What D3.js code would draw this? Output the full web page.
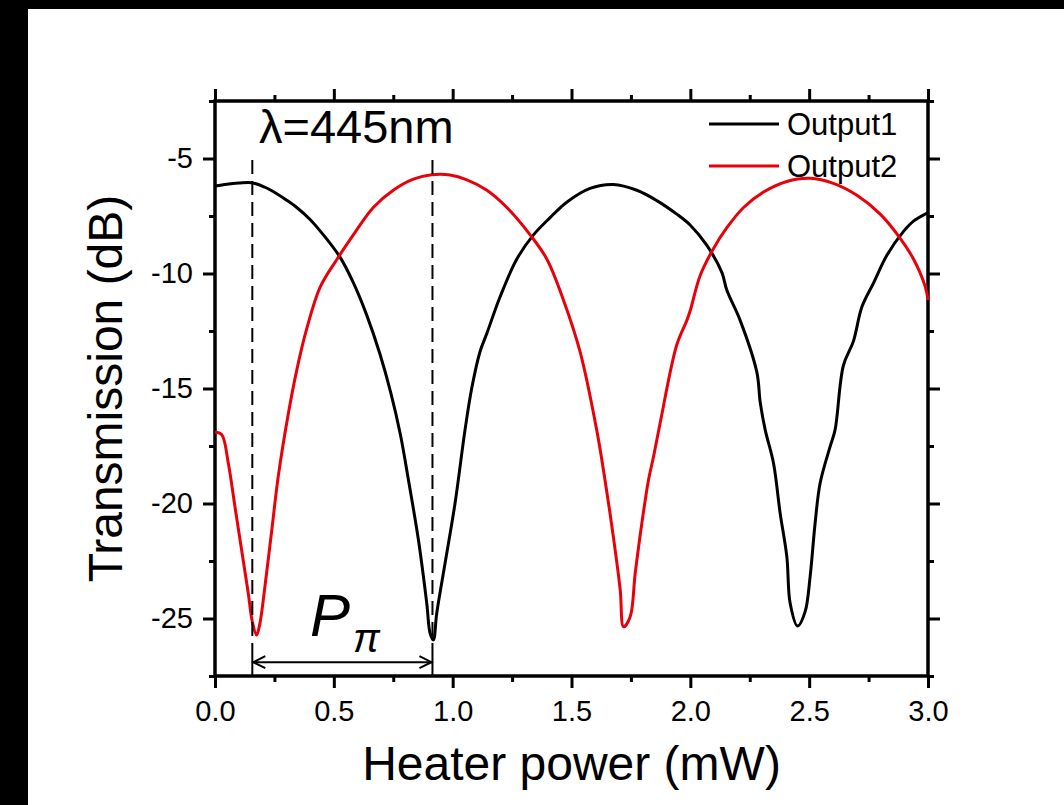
<!DOCTYPE html>
<html>
<head>
<meta charset="utf-8">
<script src="https://cdn.jsdelivr.net/npm/d3@7"></script>
<style>
  body { margin: 0; background: #000; }
  svg { display: block; }
  text { font-family: "Liberation Sans", Arial, sans-serif; fill: #000; }
</style>
</head>
<body>
<div id="chart"></div>
<script>
// Output1 (black): heater power (mW) / transmission (dB)
var powerOut1 = [0, 0.05, 0.10, 0.154, 0.21, 0.26, 0.30, 0.344, 0.40, 0.456,
  0.526, 0.582, 0.638, 0.694, 0.74, 0.78, 0.814, 0.856, 0.891, 0.905,
  0.919, 0.933, 0.968, 1.01, 1.052, 1.08, 1.115, 1.144, 1.20, 1.27,
  1.34, 1.41, 1.48, 1.578, 1.676, 1.775, 1.859, 1.943, 2.0, 2.069,
  2.133, 2.153, 2.21, 2.28, 2.294, 2.315, 2.35, 2.378, 2.406, 2.42,
  2.451, 2.483, 2.504, 2.525, 2.546, 2.588, 2.609, 2.644, 2.686, 2.722,
  2.771, 2.827, 2.897, 2.939, 3.0];
var transOut1 = [-6.20, -6.12, -6.07, -6.05, -6.25, -6.53, -6.80, -7.13, -7.65, -8.32,
  -9.29, -10.4, -11.8, -13.5, -15.2, -17.0, -18.98, -21.59, -24.34, -25.64,
  -25.93, -24.77, -22.6, -19.99, -16.8, -15.0, -13.4, -12.6, -11.0, -9.37,
  -8.32, -7.57, -6.9, -6.3, -6.13, -6.38, -6.83, -7.42, -7.9, -8.77,
  -9.96, -10.71, -12.05, -14.3, -15.6, -16.8, -18.25, -20.43, -22.31, -24.34,
  -25.33, -24.7, -23.18, -20.86, -19.12, -17.53, -16.8, -14.0, -12.95, -11.45,
  -10.41, -9.21, -8.17, -7.72, -7.35];

// Output2 (red)
var powerOut2 = [0, 0.028, 0.056, 0.084, 0.112, 0.14, 0.157, 0.175, 0.189, 0.21,
  0.239, 0.266, 0.305, 0.344, 0.386, 0.442, 0.512, 0.582, 0.666, 0.75,
  0.835, 0.912, 0.989, 1.06, 1.144, 1.228, 1.326, 1.396, 1.466, 1.536,
  1.606, 1.641, 1.676, 1.705, 1.719, 1.747, 1.768, 1.796, 1.824, 1.845,
  1.873, 1.943, 1.985, 2.0, 2.041, 2.097, 2.153, 2.224, 2.308, 2.406,
  2.504, 2.602, 2.701, 2.799, 2.883, 2.939, 2.988, 3.0];
var transOut2 = [-16.9, -17.0, -18.25, -20.14, -22.02, -23.9, -25.14, -25.72, -25.21, -23.62,
  -21.15, -18.83, -16.3, -14.2, -12.4, -10.6, -9.4, -8.32, -7.13, -6.38,
  -5.9, -5.71, -5.72, -5.93, -6.38, -7.13, -8.32, -9.37, -11.15, -13.4,
  -16.8, -18.98, -21.44, -23.76, -25.36, -24.92, -23.04, -20.86, -18.98, -17.97,
  -16.5, -13.1, -12.05, -11.6, -10.1, -8.92, -8.02, -7.13, -6.46, -6.0,
  -5.86, -6.08, -6.6, -7.42, -8.47, -9.37, -10.56, -11.15];

var xMajor = [0, 0.5, 1, 1.5, 2, 2.5, 3];
var xMinor = [0.25, 0.75, 1.25, 1.75, 2.25, 2.75];
var yMajor = [-5, -10, -15, -20, -25];
var yMinor = [-2.5, -7.5, -12.5, -17.5, -22.5, -27.5];
var seriesNames = ["Output1", "Output2"];
var seriesColors = ["#000000", "#e8000b"];
// the two dips marked with dashed lines (P_pi span)
var dipPowers = [0.157, 0.915];

var svgWidth = 1064;
var svgHeight = 805;

var margin = {
  top: 101,
  right: 136,
  bottom: 129,
  left: 215
};

var width = svgWidth - margin.left - margin.right;
var height = svgHeight - margin.top - margin.bottom;

var svg = d3
  .select("#chart")
  .append("svg")
  .attr("width", svgWidth)
  .attr("height", svgHeight);

// black border strips on the left and top, white page
svg.append("rect").attr("width", svgWidth).attr("height", svgHeight).attr("fill", "#000");
svg.append("rect").attr("x", 28).attr("y", 9)
  .attr("width", svgWidth - 28).attr("height", svgHeight - 9).attr("fill", "#fff");

var chartGroup = svg
  .append("g")
  .attr("transform", `translate(${margin.left}, ${margin.top})`);

var x = d3.scaleLinear().domain([0, 3]).range([0, width]);
var y = d3.scaleLinear().domain([-27.5, -2.5]).range([height, 0]);

// axes: major and minor ticks on all four sides, labels only bottom/left
function addAxis(axis, transform) {
  var g = chartGroup.append("g").attr("transform", transform).call(axis);
  g.select(".domain").remove();
  g.selectAll(".tick line").attr("stroke", "#000").attr("stroke-width", 3);
  g.selectAll(".tick text")
    .attr("font-size", 29)
    .attr("font-family", "Liberation Sans, Arial, sans-serif")
    .attr("fill", "#000");
  return g;
}

addAxis(d3.axisBottom(x).tickValues(xMajor).tickSize(12).tickPadding(12)
  .tickFormat(d3.format(".1f")), `translate(0, ${height})`);
addAxis(d3.axisBottom(x).tickValues(xMinor).tickSize(6).tickFormat(""), `translate(0, ${height})`);
addAxis(d3.axisTop(x).tickValues(xMajor).tickSize(12).tickFormat(""), "translate(0, 0)");
addAxis(d3.axisTop(x).tickValues(xMinor).tickSize(6).tickFormat(""), "translate(0, 0)");
addAxis(d3.axisLeft(y).tickValues(yMajor).tickSize(12).tickPadding(10)
  .tickFormat(d => String(d)), "translate(0, 0)");
addAxis(d3.axisLeft(y).tickValues(yMinor).tickSize(6).tickFormat(""), "translate(0, 0)");
addAxis(d3.axisRight(y).tickValues(yMajor).tickSize(12).tickFormat(""), `translate(${width}, 0)`);
addAxis(d3.axisRight(y).tickValues(yMinor).tickSize(6).tickFormat(""), `translate(${width}, 0)`);

// plot frame
chartGroup
  .append("rect")
  .attr("width", width)
  .attr("height", height)
  .attr("fill", "none")
  .attr("stroke", "#000")
  .attr("stroke-width", 3.5);

// curves
var series = [
  d3.zip(powerOut1, transOut1),
  d3.zip(powerOut2, transOut2)
];

var line = d3
  .line()
  .x(d => x(d[0]))
  .y(d => y(d[1]))
  .curve(d3.curveCatmullRom.alpha(0.5));

chartGroup
  .selectAll("path.curve")
  .data(series)
  .enter()
  .append("path")
  .attr("class", "curve")
  .attr("d", line)
  .attr("fill", "none")
  .attr("stroke", (d, i) => seriesColors[i])
  .attr("stroke-width", 3)
  .attr("stroke-linejoin", "round");

// dashed markers at the two dips
var arrowY = y(-26.9);
chartGroup
  .selectAll("line.dip")
  .data(dipPowers)
  .enter()
  .append("line")
  .attr("class", "dip")
  .attr("x1", d => x(d))
  .attr("x2", d => x(d))
  .attr("y1", y(-5.07))
  .attr("y2", y(-26.15))
  .attr("stroke", "#000")
  .attr("stroke-width", 2)
  .attr("stroke-dasharray", "14,7");

chartGroup
  .selectAll("line.dipEnd")
  .data(dipPowers)
  .enter()
  .append("line")
  .attr("class", "dipEnd")
  .attr("x1", d => x(d))
  .attr("x2", d => x(d))
  .attr("y1", y(-26.15))
  .attr("y2", height)
  .attr("stroke", "#000")
  .attr("stroke-width", 2);

// double arrow between the dips
var ax0 = x(dipPowers[0]);
var ax1 = x(dipPowers[1]);
chartGroup.append("line")
  .attr("x1", ax0).attr("x2", ax1)
  .attr("y1", arrowY).attr("y2", arrowY)
  .attr("stroke", "#000").attr("stroke-width", 2);
chartGroup.append("path")
  .attr("d", `M${ax0 + 13},${arrowY - 6}L${ax0 + 1},${arrowY}L${ax0 + 13},${arrowY + 6}` +
    `M${ax1 - 13},${arrowY - 6}L${ax1 - 1},${arrowY}L${ax1 - 13},${arrowY + 6}`)
  .attr("fill", "none").attr("stroke", "#000").attr("stroke-width", 2);

// P_pi label, subscript as a tspan
var pLabel = chartGroup.append("text")
  .attr("x", 95).attr("y", 535)
  .attr("font-family", "Open Sans, sans-serif")
  .attr("font-style", "italic")
  .attr("font-size", 60);
pLabel.append("tspan").text("P");
pLabel.append("tspan")
  .attr("dx", 3)
  .attr("dy", 16)
  .attr("font-size", 40)
  .text("π");

// wavelength note
chartGroup.append("text")
  .attr("x", 44).attr("y", 42)
  .attr("font-family", "Open Sans, sans-serif")
  .attr("font-size", 47)
  .text("λ=445nm");

// legend
var legend = chartGroup
  .selectAll("g.legend")
  .data(seriesNames)
  .enter()
  .append("g")
  .attr("class", "legend")
  .attr("transform", (d, i) => `translate(494, ${23 + i * 42})`);

legend.append("line")
  .attr("x1", 0).attr("x2", 70)
  .attr("stroke", (d, i) => seriesColors[i])
  .attr("stroke-width", 3);

legend.append("text")
  .attr("x", 78).attr("y", 11)
  .attr("font-size", 31)
  .text(d => d);

// axis titles
chartGroup.append("text")
  .attr("x", width / 2)
  .attr("y", 679)
  .attr("text-anchor", "middle")
  .attr("font-size", 48)
  .text("Heater power (mW)");

chartGroup.append("text")
  .attr("transform", "rotate(-90)")
  .attr("x", 0 - height / 2)
  .attr("y", -93)
  .attr("text-anchor", "middle")
  .attr("font-size", 48)
  .text("Transmission (dB)");
</script>
</body>
</html>
